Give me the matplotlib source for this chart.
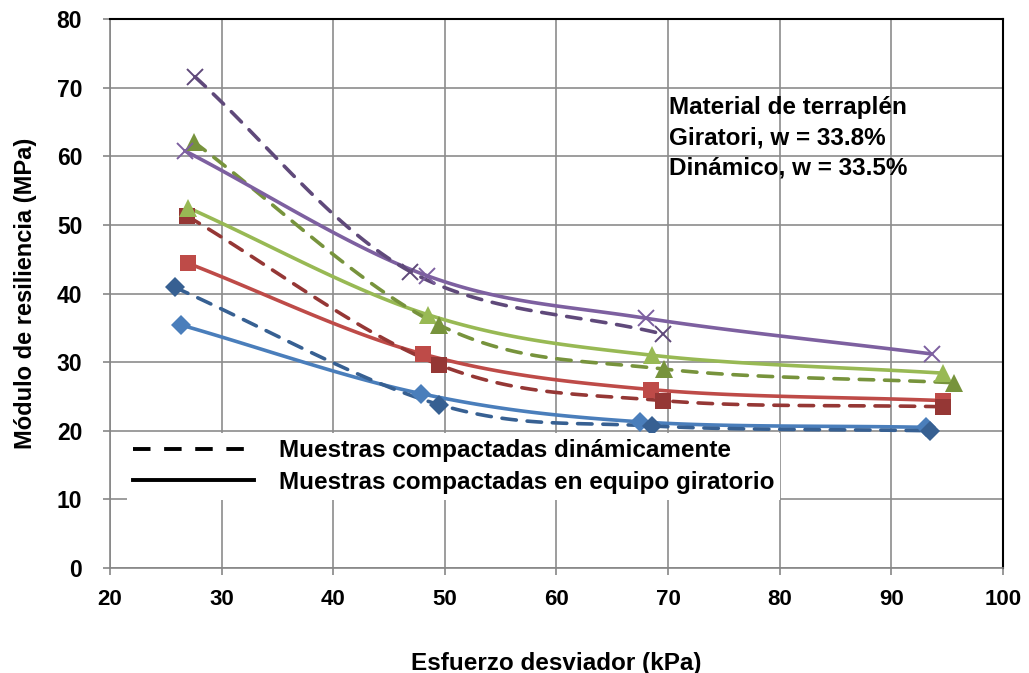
import matplotlib
matplotlib.use("Agg")
import matplotlib.pyplot as plt
from matplotlib.lines import Line2D
import numpy as np

# Datos (Esfuerzo desviador kPa, Módulo MPa)
# Muestras compactadas dinámicamente (línea discontinua)
din_azul_x = [25.8, 49.5, 68.6, 93.5]
din_azul_y = [40.9, 23.8, 20.7, 20.0]
din_rojo_x = [26.9, 49.5, 69.5, 94.6]
din_rojo_y = [51.3, 29.6, 24.4, 23.5]
din_verde_x = [27.5, 49.5, 69.6, 95.6]
din_verde_y = [62.1, 35.4, 29.0, 27.0]
din_morado_x = [27.6, 46.9, 69.5]
din_morado_y = [71.6, 43.2, 34.1]

# Muestras compactadas en equipo giratorio (línea continua)
gir_azul_x = [26.4, 47.9, 67.5, 93.1]
gir_azul_y = [35.4, 25.4, 21.3, 20.5]
gir_rojo_x = [27.0, 48.0, 68.5, 94.6]
gir_rojo_y = [44.4, 31.2, 26.0, 24.4]
gir_verde_x = [27.0, 48.5, 68.6, 94.6]
gir_verde_y = [52.5, 36.9, 31.0, 28.4]
gir_morado_x = [26.7, 48.4, 68.0, 93.6]
gir_morado_y = [60.8, 42.6, 36.4, 31.2]


def suavizar(x, y, n=40):
    # curva tipo Catmull-Rom, como la línea suavizada de Excel
    p = np.column_stack([x, y]).astype(float)
    p = np.vstack([2 * p[0] - p[1], p, 2 * p[-1] - p[-2]])
    out = []
    t = np.linspace(0, 1, n)[:, None]
    for i in range(1, len(p) - 2):
        p0, p1, p2, p3 = p[i - 1], p[i], p[i + 1], p[i + 2]
        seg = 0.5 * ((2 * p1) + (-p0 + p2) * t
                     + (2 * p0 - 5 * p1 + 4 * p2 - p3) * t ** 2
                     + (-p0 + 3 * p1 - 3 * p2 + p3) * t ** 3)
        out.append(seg)
    c = np.vstack(out)
    return c[:, 0], c[:, 1]


fig = plt.figure(figsize=(10.29, 6.73), dpi=100)
ax = fig.add_axes([0.1069, 0.156, 0.8678, 0.8157])

arial = ["Liberation Sans", "DejaVu Sans"]

series = [
    (din_azul_x, din_azul_y, gir_azul_x, gir_azul_y, "D", "#376092", "#4a7ebb", 10),
    (din_rojo_x, din_rojo_y, gir_rojo_x, gir_rojo_y, "s", "#953735", "#be4b48", 11),
    (din_verde_x, din_verde_y, gir_verde_x, gir_verde_y, "^", "#77933c", "#98b954", 12.5),
    (din_morado_x, din_morado_y, gir_morado_x, gir_morado_y, "x", "#5f497a", "#7d60a0", 12),
]

for dx, dy, gx, gy, mk, cd, cg, ms in series:
    sx, sy = suavizar(gx, gy)
    ax.plot(sx, sy, color=cg, lw=2.6, solid_capstyle="round", zorder=3)
    ax.plot(gx, gy, ls="none", marker=mk, color=cg, ms=ms, mew=1.4 if mk == "x" else 0, zorder=4)
    sx, sy = suavizar(dx, dy)
    ax.plot(sx, sy, color=cd, lw=2.6, ls=(0, (4, 3)), dash_capstyle="round", zorder=3)
    ax.plot(dx, dy, ls="none", marker=mk, color=cd, ms=ms, mew=1.4 if mk == "x" else 0, zorder=4)

ax.set_xlim(20, 100)
ax.set_ylim(0, 80)
ax.set_xticks(np.arange(20, 101, 10))
ax.set_yticks(np.arange(0, 81, 10))
ax.grid(True, color="#8c8c8c", lw=1.2)
ax.set_axisbelow(True)

for s in ["left", "bottom"]:
    ax.spines[s].set_color("#868686")
    ax.spines[s].set_linewidth(1.2)
for s in ["top", "right"]:
    ax.spines[s].set_color("black")
    ax.spines[s].set_linewidth(1.5)

ax.tick_params(axis="both", direction="out", length=5, color="#868686", width=1.2)
for lab in ax.get_xticklabels():
    lab.set_fontfamily(arial)
    lab.set_fontweight("bold")
    lab.set_fontsize(16)
for lab in ax.get_yticklabels():
    lab.set_fontfamily(arial)
    lab.set_fontweight("bold")
    lab.set_fontsize(16.5)
ax.tick_params(axis="x", pad=10)
ax.tick_params(axis="y", pad=15)

ax.set_xlabel("Esfuerzo desviador (kPa)", family=arial, weight="bold", fontsize=17.5, labelpad=30)
ax.set_ylabel("Módulo de resiliencia (MPa)", family=arial, weight="bold", fontsize=17, labelpad=14)

ax.text(0.626, 0.859, "Material de terraplén\nGiratori, w = 33.8%\nDinámico, w = 33.5%",
        transform=ax.transAxes, family=arial, weight="bold", fontsize=17.5,
        va="top", ha="left", linespacing=1.4, zorder=5)

handles = [
    Line2D([], [], color="black", lw=2.8, ls=(0, (4.5, 3.5))),
    Line2D([], [], color="black", lw=2.8),
]
leg = ax.legend(handles, ["Muestras compactadas dinámicamente",
                          "Muestras compactadas en equipo giratorio"],
                loc="lower left", bbox_to_anchor=(0.005, 0.12), frameon=True,
                fancybox=False, edgecolor="none", framealpha=1, handlelength=5.0,
                handletextpad=1.0, borderpad=0.25, labelspacing=0.35,
                prop={"family": arial, "weight": "bold", "size": 17.5})
leg.set_zorder(6)
leg.set_bbox_to_anchor((0.005, 0.102), transform=ax.transAxes)

fig.savefig("out.png", dpi=100)
